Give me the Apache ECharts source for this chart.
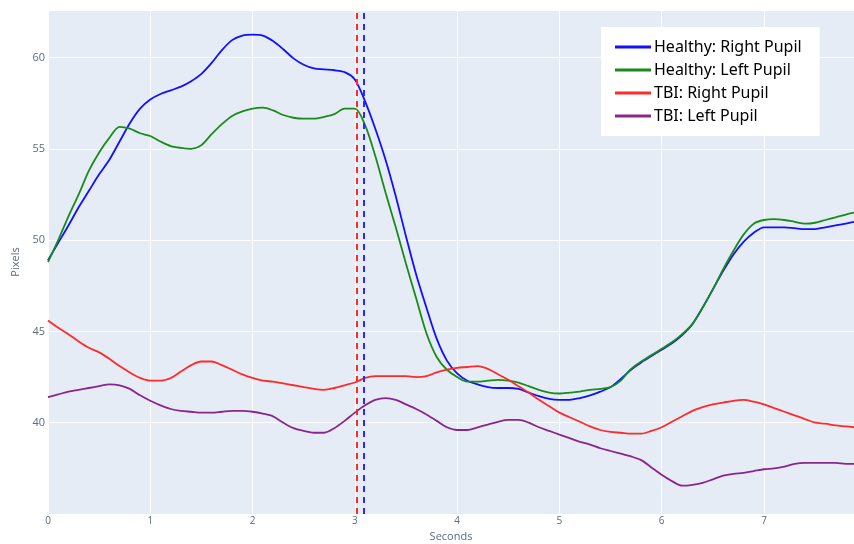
<!DOCTYPE html>
<html>
<head>
    <meta charset="utf-8">
    <title>Pupil Response</title>
    <script src="https://cdn.jsdelivr.net/npm/echarts@6/dist/echarts.min.js"></script>
    <style>
        html, body { margin: 0; padding: 0; background: #fff; }
        #chart { width: 854px; height: 544px; }
    </style>
</head>
<body>
<div id="chart"></div>
<script>
    // time axis, seconds
    var times = [0.0, 0.1, 0.2, 0.3, 0.4, 0.5, 0.6, 0.7, 0.8, 0.9,
        1.0, 1.1, 1.2, 1.3, 1.4, 1.5, 1.6, 1.7, 1.8, 1.9,
        2.0, 2.1, 2.2, 2.3, 2.4, 2.5, 2.6, 2.7, 2.8, 2.9,
        3.0, 3.1, 3.2, 3.3, 3.4, 3.5, 3.6, 3.7, 3.8, 3.9,
        4.0, 4.1, 4.2, 4.3, 4.4, 4.5, 4.6, 4.7, 4.8, 4.9,
        5.0, 5.1, 5.2, 5.3, 5.4, 5.5, 5.6, 5.7, 5.8, 5.9,
        6.0, 6.1, 6.2, 6.3, 6.4, 6.5, 6.6, 6.7, 6.8, 6.9,
        7.0, 7.1, 7.2, 7.3, 7.4, 7.5, 7.6, 7.7, 7.8, 7.88];

    var healthyRight = [48.9, 49.85, 50.8, 51.8, 52.7, 53.6, 54.4, 55.4, 56.4, 57.2,
        57.7, 58.0, 58.2, 58.4, 58.7, 59.1, 59.7, 60.4, 60.95, 61.2,
        61.25, 61.2, 60.9, 60.45, 59.95, 59.6, 59.4, 59.35, 59.3, 59.2,
        58.8, 57.6, 56.1, 54.4, 52.4, 50.2, 48.1, 46.3, 44.6, 43.4,
        42.7, 42.3, 42.1, 41.95, 41.9, 41.9, 41.85, 41.65, 41.45, 41.3,
        41.25, 41.25, 41.35, 41.5, 41.7, 41.95, 42.4, 42.9, 43.3, 43.65,
        44.0, 44.35, 44.8, 45.4, 46.3, 47.3, 48.3, 49.2, 49.9, 50.4,
        50.7, 50.7, 50.7, 50.65, 50.6, 50.6, 50.7, 50.8, 50.9, 51.0];

    var healthyLeft = [48.8, 50.0, 51.3, 52.5, 53.8, 54.8, 55.6, 56.2, 56.1, 55.85,
        55.7, 55.4, 55.15, 55.05, 55.0, 55.2, 55.8, 56.35, 56.8, 57.05,
        57.2, 57.25, 57.1, 56.85, 56.7, 56.65, 56.65, 56.75, 56.9, 57.2,
        57.2, 56.3, 54.6, 52.6, 50.7, 48.7, 46.8, 44.9, 43.6, 42.9,
        42.5, 42.25, 42.25, 42.3, 42.35, 42.3, 42.2, 42.0, 41.8, 41.65,
        41.6, 41.65, 41.7, 41.8, 41.85, 41.95, 42.3, 42.95, 43.35, 43.7,
        44.05, 44.4, 44.85, 45.4, 46.3, 47.3, 48.4, 49.4, 50.3, 50.9,
        51.1, 51.15, 51.1, 51.0, 50.9, 50.95, 51.1, 51.25, 51.4, 51.5];

    var tbiRight = [45.6, 45.2, 44.85, 44.45, 44.1, 43.85, 43.5, 43.1, 42.75, 42.45,
        42.3, 42.3, 42.45, 42.8, 43.15, 43.35, 43.35, 43.15, 42.9, 42.65,
        42.45, 42.3, 42.25, 42.15, 42.05, 41.95, 41.85, 41.8, 41.9, 42.05,
        42.2, 42.45, 42.55, 42.55, 42.55, 42.55, 42.5, 42.55, 42.75, 42.9,
        43.0, 43.05, 43.1, 42.95, 42.65, 42.35, 42.0, 41.65, 41.25, 40.9,
        40.55, 40.3, 40.05, 39.8, 39.6, 39.5, 39.45, 39.4, 39.4, 39.55,
        39.75, 40.05, 40.35, 40.65, 40.85, 41.0, 41.1, 41.2, 41.25, 41.15,
        41.0, 40.8, 40.6, 40.4, 40.2, 40.0, 39.95, 39.85, 39.8, 39.75];

    var tbiLeft = [41.4, 41.55, 41.7, 41.8, 41.9, 42.0, 42.1, 42.05, 41.85, 41.5,
        41.2, 40.95, 40.75, 40.65, 40.6, 40.55, 40.55, 40.6, 40.65, 40.65,
        40.6, 40.5, 40.35, 40.0, 39.7, 39.55, 39.45, 39.45, 39.7, 40.1,
        40.55, 40.95, 41.25, 41.35, 41.25, 41.0, 40.75, 40.45, 40.1, 39.75,
        39.6, 39.6, 39.75, 39.9, 40.05, 40.15, 40.15, 40.0, 39.75, 39.55,
        39.35, 39.15, 38.95, 38.8, 38.6, 38.45, 38.3, 38.15, 37.95, 37.55,
        37.15, 36.8, 36.55, 36.6, 36.7, 36.9, 37.1, 37.2, 37.25, 37.35,
        37.45, 37.5, 37.6, 37.75, 37.8, 37.8, 37.8, 37.8, 37.75, 37.75];

    // stimulus markers (seconds)
    var tbiMarker = 3.02;
    var healthyMarker = 3.09;

    var seriesNames = ['Healthy: Right Pupil', 'Healthy: Left Pupil', 'TBI: Right Pupil', 'TBI: Left Pupil'];
    var seriesColors = ['#1010ff', '#1a8a1a', '#ff2a2a', '#8a268a'];
    var seriesValues = [healthyRight, healthyLeft, tbiRight, tbiLeft];

    function pairs(values) {
        return values.map(function (v, i) { return [times[i], v]; });
    }

    function marker(x, color) {
        return {
            silent: true,
            symbol: 'none',
            label: { show: false },
            lineStyle: { color: color, type: [6, 5], width: 2 },
            data: [{ xAxis: x }]
        };
    }

    var series = seriesNames.map(function (name, i) {
        var s = {
            name: name,
            type: 'line',
            data: pairs(seriesValues[i]),
            showSymbol: false,
            smooth: 0.3,
            lineStyle: { width: 1.8, color: seriesColors[i] },
            itemStyle: { color: seriesColors[i] },
            z: 3
        };
        if (i === 0) s.markLine = marker(healthyMarker, '#2a2aff');
        if (i === 2) s.markLine = marker(tbiMarker, '#ff2a2a');
        return s;
    });

    var chart = echarts.init(document.getElementById('chart'));
    chart.setOption({
        animation: false,
        textStyle: { fontFamily: 'Open Sans' },
        grid: {
            left: 48,
            right: 0,
            top: 10,
            bottom: 30,
            outerBoundsMode: 'none',
            containLabel: false,
            show: true,
            backgroundColor: '#e5ecf6',
            borderWidth: 0
        },
        legend: {
            data: seriesNames,
            orient: 'vertical',
            left: 601,
            top: 27,
            width: 220,
            padding: [12, 18, 12, 14],
            backgroundColor: '#ffffff',
            itemWidth: 36,
            itemHeight: 3,
            itemGap: 7,
            icon: 'rect',
            textStyle: { color: '#000', fontSize: 16, fontFamily: 'Noto Sans', padding: [0, 0, 0, -2] }
        },
        xAxis: {
            type: 'value',
            min: 0,
            max: 7.88,
            interval: 1,
            name: 'Seconds',
            nameLocation: 'middle',
            nameGap: 17,
            nameTextStyle: { color: '#5a6b82', fontSize: 11 },
            axisLine: { show: false },
            axisTick: { show: false },
            axisLabel: { color: '#5a6b82', fontSize: 10, margin: 2, showMaxLabel: false },
            splitLine: { lineStyle: { color: '#ffffff', width: 1 } }
        },
        yAxis: {
            type: 'value',
            min: 35,
            max: 62.6,
            interval: 5,
            name: 'Pixels',
            nameLocation: 'middle',
            nameGap: 17,
            nameTextStyle: { color: '#5a6b82', fontSize: 11 },
            axisLine: { show: false },
            axisTick: { show: false },
            axisLabel: { color: '#5a6b82', fontSize: 11, margin: 3, showMinLabel: false, showMaxLabel: false },
            splitLine: { lineStyle: { color: '#ffffff', width: 1 } }
        },
        series: series
    });
</script>
</body>
</html>
